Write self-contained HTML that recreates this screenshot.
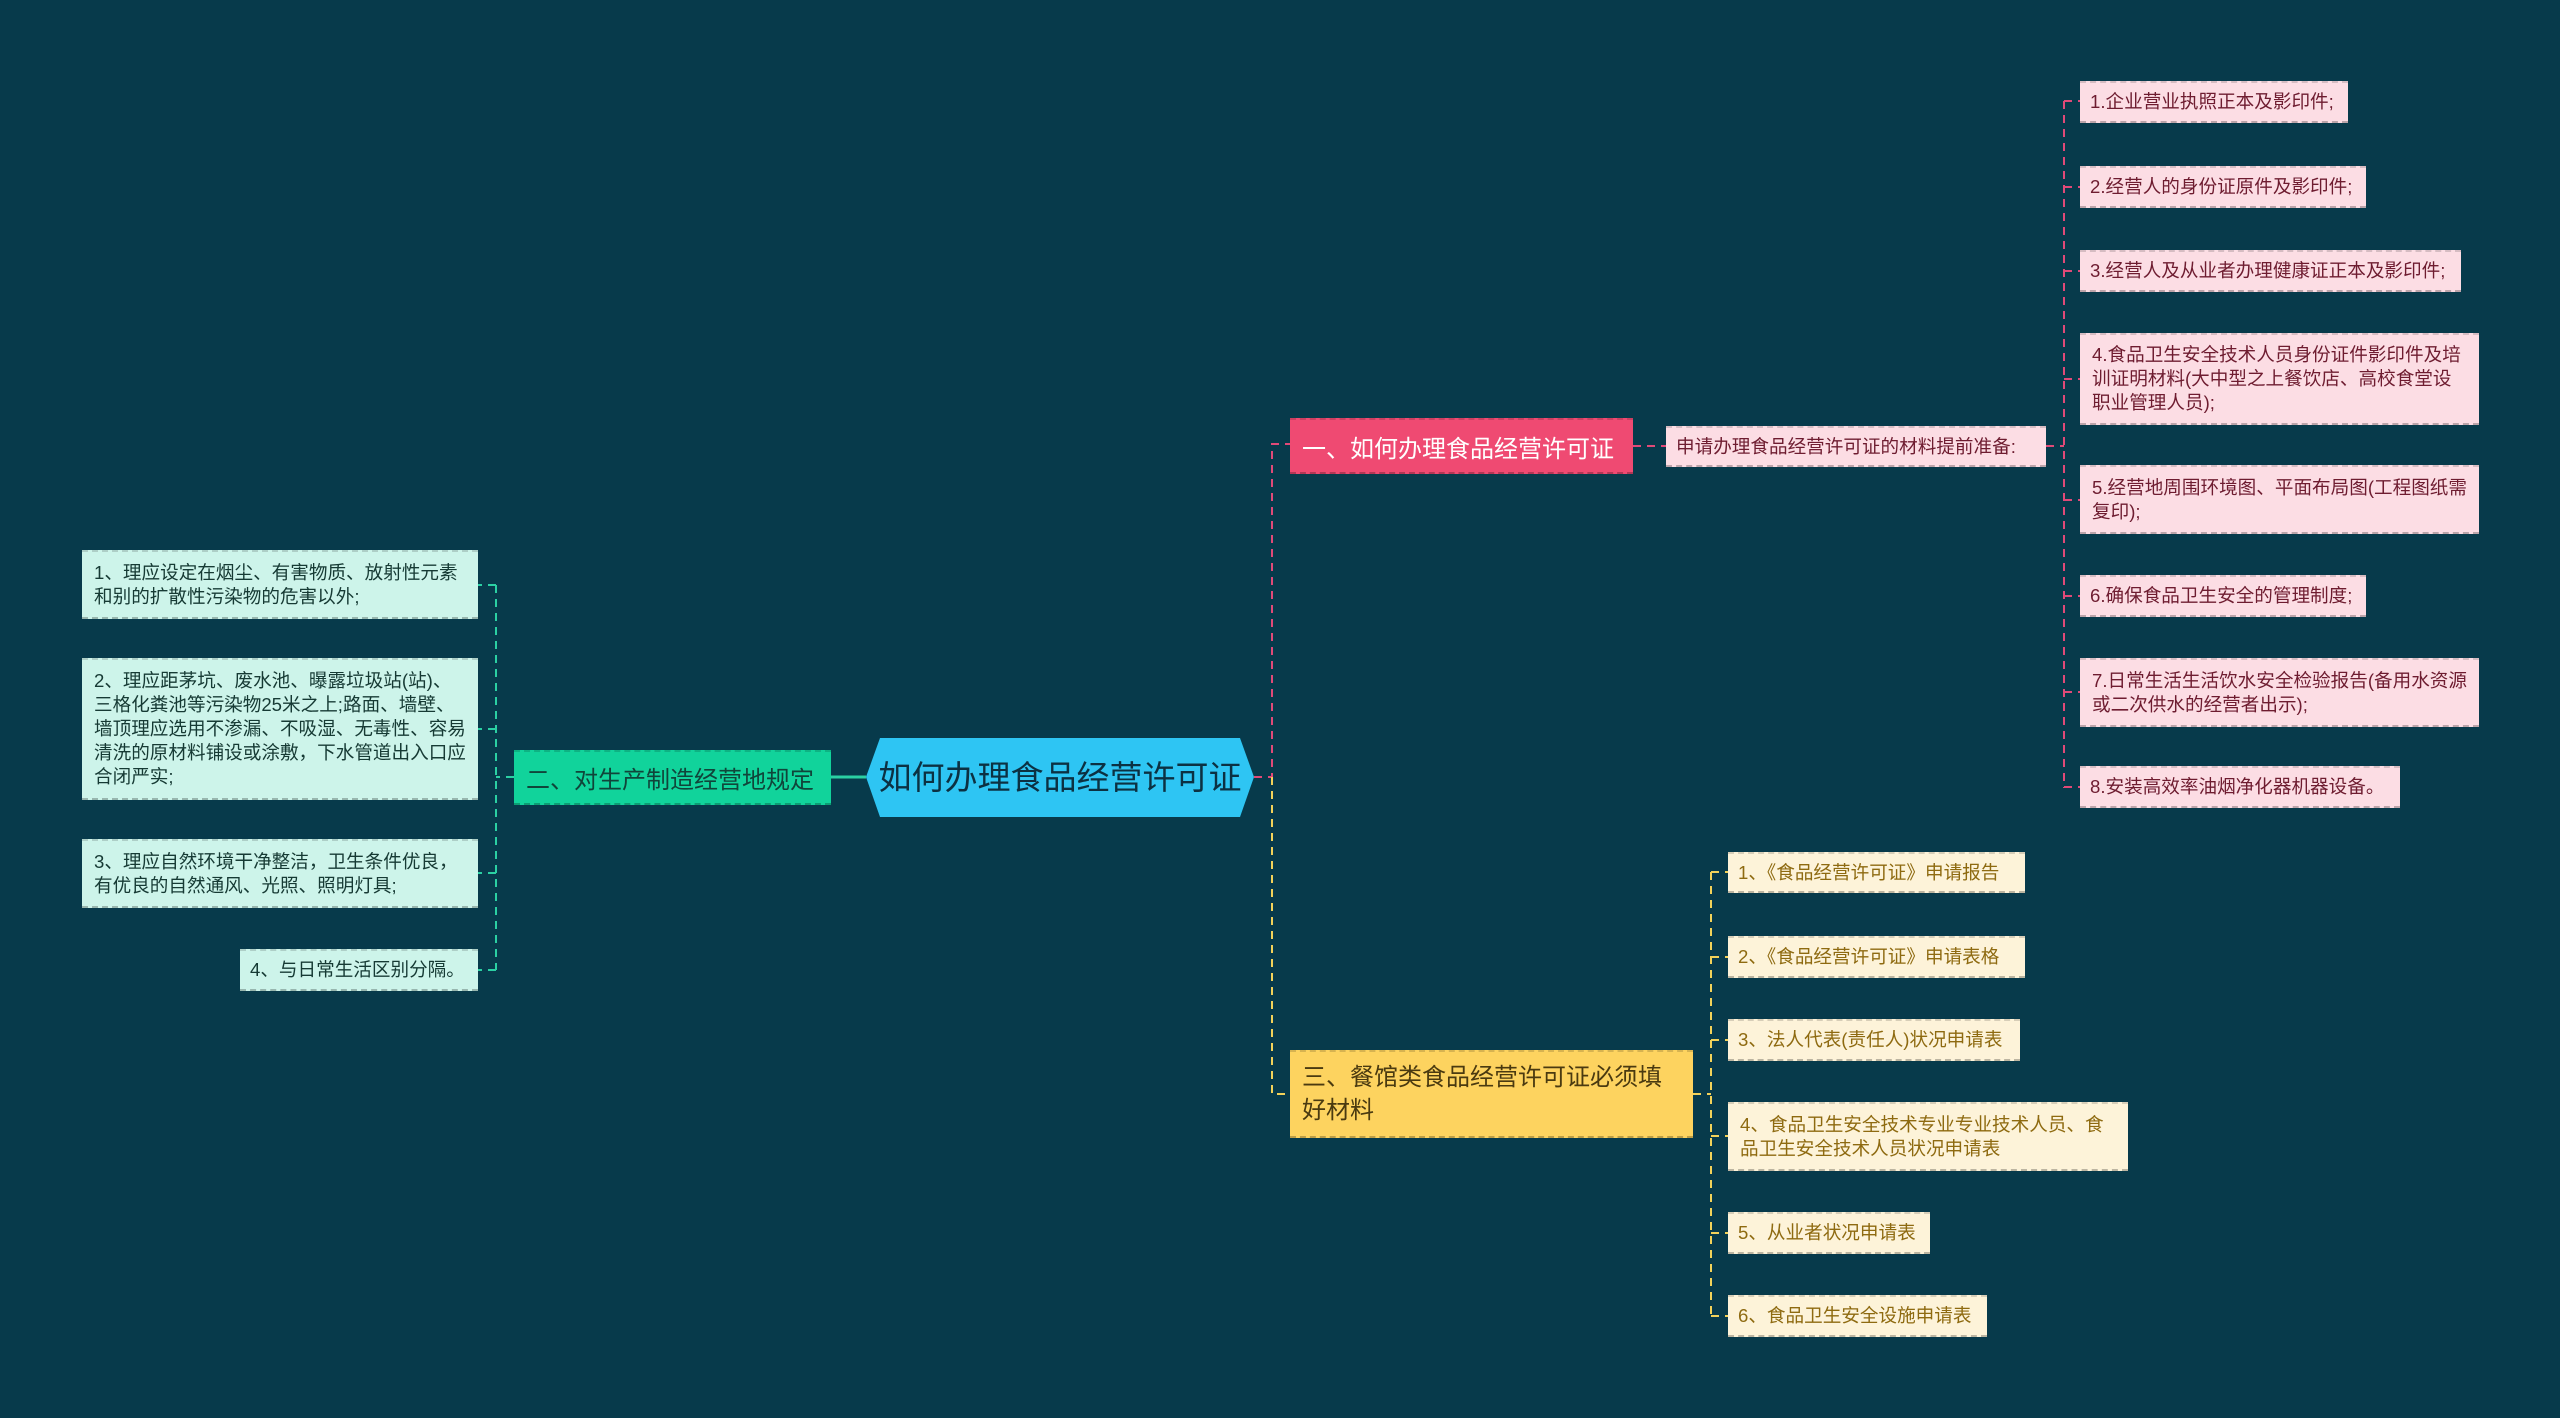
<!DOCTYPE html>
<html><head><meta charset="utf-8"><style>
body{margin:0;width:2560px;height:1418px;background:#073a4b;position:relative;overflow:hidden;font-family:"Liberation Sans","Noto Sans CJK SC",sans-serif}
.b{position:absolute;box-sizing:border-box;display:flex;align-items:center;border-top:2px dashed rgba(0,0,0,0.15);border-bottom:2px dashed rgba(0,0,0,0.25)}
.l{font-size:18.6px;line-height:24px;padding:0 12px}
.n{white-space:nowrap;padding:0 8px 0 10px}
.p{background:#fcdde4;color:#6e1c30}
.y{background:#fdf3d9;color:#8e6a10}
.g{background:#cdf4ea;color:#163a34}
svg{position:absolute;left:0;top:0}
</style></head><body>
<svg width="2560" height="1418">
<g fill="none" stroke-width="2" stroke-dasharray="8,6">
<path d="M1254 777 H1272 V444 H1290" stroke="#e04a78"/>
<path d="M1272 777 V1094 H1290" stroke="#f2d25a"/>
<path d="M866 777 H831" stroke="#2bd0a3" stroke-dasharray="none" stroke-width="3"/>
<path d="M1633 446 H1666" stroke="#e04a78"/>
<path d="M2046 446 H2064" stroke="#e04a78"/>
<path d="M2064 101 V788" stroke="#e04a78"/>
<path d="M2064 101 H2080 M2064 187 H2080 M2064 271 H2080 M2064 379 H2080 M2064 500 H2080 M2064 596 H2080 M2064 692 H2080 M2064 787 H2080" stroke="#e04a78"/>
<path d="M1693 1094 H1711 M1711 872 V1316 M1711 872 H1728 M1711 957 H1728 M1711 1040 H1728 M1711 1136 H1728 M1711 1233 H1728 M1711 1316 H1728" stroke="#f2d25a"/>
<path d="M514 777 H496 M496 585 V970 M496 585 H478 M496 729 H478 M496 873 H478 M496 970 H478" stroke="#2bd0a3"/>
</g>
<polygon points="880,738 1240,738 1254,777 1240,817 880,817 866,777" fill="#2ec5f3"/>
<text x="1060" y="789" font-size="33" text-anchor="middle" fill="#0c3142" font-family="Liberation Sans, Noto Sans CJK SC, sans-serif">如何办理食品经营许可证</text>
</svg>
<div class="b" style="left:1290px;top:418px;width:343px;height:56px;background:#ef4a72;color:#fff;font-size:24px;padding:0 12px">一、如何办理食品经营许可证</div>
<div class="b p l n" style="left:1666px;top:426px;width:380px;height:41px">申请办理食品经营许可证的材料提前准备:</div>
<div class="b p l n" style="left:2080px;top:81px;width:268px;height:42px">1.企业营业执照正本及影印件;</div>
<div class="b p l n" style="left:2080px;top:166px;width:286px;height:42px">2.经营人的身份证原件及影印件;</div>
<div class="b p l n" style="left:2080px;top:250px;width:381px;height:42px">3.经营人及从业者办理健康证正本及影印件;</div>
<div class="b p l" style="left:2080px;top:333px;width:399px;height:92px">4.食品卫生安全技术人员身份证件影印件及培训证明材料(大中型之上餐饮店、高校食堂设职业管理人员);</div>
<div class="b p l" style="left:2080px;top:465px;width:399px;height:69px">5.经营地周围环境图、平面布局图(工程图纸需复印);</div>
<div class="b p l n" style="left:2080px;top:575px;width:286px;height:42px">6.确保食品卫生安全的管理制度;</div>
<div class="b p l" style="left:2080px;top:658px;width:399px;height:69px">7.日常生活生活饮水安全检验报告(备用水资源或二次供水的经营者出示);</div>
<div class="b p l n" style="left:2080px;top:766px;width:320px;height:42px">8.安装高效率油烟净化器机器设备。</div>
<div class="b" style="left:1290px;top:1050px;width:403px;height:88px;background:#fdd35f;color:#4a3a10;font-size:24px;line-height:33px;padding:0 12px">三、餐馆类食品经营许可证必须填好材料</div>
<div class="b y l n" style="left:1728px;top:852px;width:297px;height:41px">1、《食品经营许可证》申请报告</div>
<div class="b y l n" style="left:1728px;top:936px;width:297px;height:42px">2、《食品经营许可证》申请表格</div>
<div class="b y l n" style="left:1728px;top:1019px;width:292px;height:42px">3、法人代表(责任人)状况申请表</div>
<div class="b y l" style="left:1728px;top:1102px;width:400px;height:69px">4、食品卫生安全技术专业专业技术人员、食品卫生安全技术人员状况申请表</div>
<div class="b y l n" style="left:1728px;top:1212px;width:202px;height:42px">5、从业者状况申请表</div>
<div class="b y l n" style="left:1728px;top:1295px;width:259px;height:42px">6、食品卫生安全设施申请表</div>
<div class="b" style="left:514px;top:750px;width:317px;height:55px;background:#11d39b;color:#10453a;font-size:24px;padding:0 12px">二、对生产制造经营地规定</div>
<div class="b g l" style="left:82px;top:550px;width:396px;height:69px">1、理应设定在烟尘、有害物质、放射性元素和别的扩散性污染物的危害以外;</div>
<div class="b g l" style="left:82px;top:658px;width:396px;height:142px">2、理应距茅坑、废水池、曝露垃圾站(站)、三格化粪池等污染物25米之上;路面、墙壁、墙顶理应选用不渗漏、不吸湿、无毒性、容易清洗的原材料铺设或涂敷，下水管道出入口应合闭严实;</div>
<div class="b g l" style="left:82px;top:839px;width:396px;height:69px">3、理应自然环境干净整洁，卫生条件优良，有优良的自然通风、光照、照明灯具;</div>
<div class="b g l n" style="left:240px;top:949px;width:238px;height:42px">4、与日常生活区别分隔。</div>
</body></html>
